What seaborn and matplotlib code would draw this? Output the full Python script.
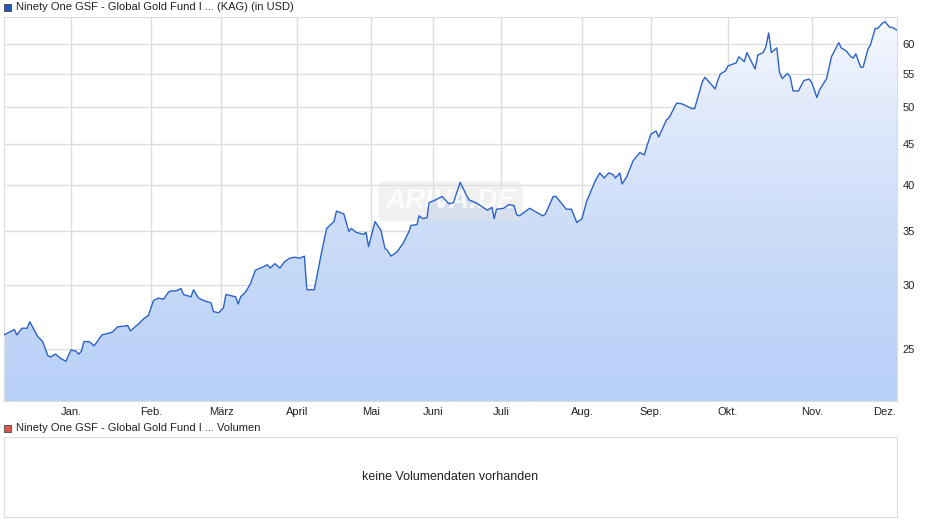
import numpy as np
import pandas as pd
import seaborn as sns
import matplotlib.pyplot as plt
import matplotlib.dates as mdates
from matplotlib.ticker import FixedLocator, NullLocator

# day offsets from 2025-01-01 and fund prices (USD)
days = [-26, -24, -22, -21, -19, -17, -16, -13, -11, -9, -8, -6, -4, -2, 0, 2, 3, 4, 5, 7,
        9, 12, 16, 18, 22, 23, 26, 28, 30, 32, 34, 36, 38, 39, 41, 43, 44, 47, 48, 50,
        52, 55, 56, 58, 60, 61, 65, 66, 67, 69, 71, 73, 76, 78, 79, 81, 83, 85, 87, 89,
        91, 93, 94, 97, 99, 100, 102, 105, 106, 109, 111, 112, 114, 117, 118, 119, 122, 125, 127, 128,
        130, 133, 136, 139, 140, 143, 144, 146, 148, 149, 152, 155, 158, 160, 163, 166, 167, 170, 175, 177,
        178, 179, 182, 184, 186, 187, 188, 192, 197, 198, 201, 202, 206, 208, 210, 212, 214, 218, 220, 222,
        224, 226, 227, 229, 230, 232, 235, 238, 240, 241, 243, 245, 246, 248, 249, 250, 253, 255, 259, 260,
        261, 263, 264, 268, 269, 270, 272, 273, 276, 277, 279, 280, 283, 284, 286, 287, 288, 289, 291, 292,
        293, 295, 296, 297, 299, 301, 303, 304, 306, 307, 310, 312, 313, 315, 316, 318, 320, 321, 322, 324,
        325, 327, 328, 330, 331, 333, 334, 336, 337, 339]
prices = [26.0, 26.2, 26.4, 26.0, 26.5, 26.5, 27.0, 25.9, 25.5, 24.5, 24.4, 24.6, 24.3, 24.1, 24.9, 24.8, 24.6, 24.8, 25.5, 25.5,
          25.2, 26.0, 26.2, 26.6, 26.7, 26.3, 26.8, 27.2, 27.5, 28.7, 28.9, 28.8, 29.4, 29.5, 29.5, 29.7, 29.2, 29.0, 29.6, 28.9,
          28.7, 28.5, 27.8, 27.7, 28.1, 29.2, 29.0, 28.4, 29.0, 29.4, 30.1, 31.3, 31.6, 31.8, 31.5, 31.9, 31.5, 32.1, 32.4, 32.5,
          32.4, 32.6, 29.6, 29.6, 31.8, 33.0, 35.3, 36.0, 37.1, 36.8, 35.0, 35.3, 34.9, 34.7, 34.9, 33.5, 36.0, 35.1, 33.3, 33.2,
          32.6, 33.0, 33.8, 35.0, 35.6, 35.7, 36.6, 36.3, 36.4, 38.0, 38.3, 38.7, 37.9, 38.0, 40.3, 38.7, 38.3, 38.0, 37.2, 37.5,
          36.3, 37.3, 37.4, 37.8, 37.7, 36.7, 36.6, 37.4, 36.6, 36.8, 38.7, 38.7, 37.3, 37.3, 35.9, 36.3, 38.1, 40.5, 41.4, 40.8,
          41.4, 41.2, 40.8, 41.4, 40.1, 40.9, 42.9, 43.9, 43.6, 44.6, 46.3, 46.7, 45.9, 47.4, 48.2, 48.5, 50.6, 50.5, 49.8, 49.8,
          51.1, 53.8, 54.5, 52.7, 54.0, 55.0, 55.5, 56.3, 56.8, 57.8, 57.0, 58.5, 55.8, 58.1, 58.5, 59.5, 61.9, 58.5, 59.3, 55.3,
          54.3, 55.1, 54.5, 52.4, 52.4, 54.0, 54.2, 53.6, 51.4, 52.5, 54.3, 57.8, 58.6, 60.2, 59.3, 58.8, 57.8, 57.6, 58.3, 56.1,
          56.1, 59.1, 59.8, 62.7, 62.7, 63.7, 63.9, 62.9, 62.9, 62.4]

month_labels = ["Jan.", "Feb.", "März", "April", "Mai", "Juni", "Juli", "Aug.", "Sep.", "Okt.", "Nov.", "Dez."]
y_ticks = [25, 30, 35, 40, 45, 50, 55, 60]

df = pd.DataFrame({"date": pd.Timestamp("2025-01-01") + pd.to_timedelta(days, unit="D"), "price": prices})

sns.set_style("white")
plt.rcParams['font.family'] = ['Liberation Sans', 'DejaVu Sans']

fig = plt.figure(figsize=(9.4, 5.26), dpi=100)
ax = fig.add_axes([4 / 940, 1 - 401 / 526, 893 / 940, 384 / 526])
ax2 = fig.add_axes([4 / 940, 1 - 517 / 526, 893 / 940, 80 / 526])

# the source axis is spaced by trading days, so months are not equally wide
month_pos = [pd.Timestamp(2025, m, 1) for m in range(1, 13)]
x0, x1 = mdates.date2num(df["date"].iloc[0]), mdates.date2num(df["date"].iloc[-1])
anchor_d = np.array([x0] + [mdates.date2num(m) for m in month_pos] + [x1])
anchor_p = np.array([4, 71, 151, 221, 297, 371, 433, 501, 582, 651, 728, 812, 885, 897], dtype=float)


def fwd(v):
    return np.interp(v, anchor_d, anchor_p)


def inv(v):
    return np.interp(v, anchor_p, anchor_d)


ymin, ymax = 21.5, 64.8
ax.set_xscale("function", functions=(fwd, inv))
ax.set_yscale("log")

sns.lineplot(data=df, x="date", y="price", ax=ax, color="#2c63c8", linewidth=1, zorder=3)
ax.set_xscale("function", functions=(fwd, inv))
ax.set_yscale("log")
ax.set_ylim(ymin, ymax)
ax.set_xlim(x0, x1)

# gradient fill under the line
poly = ax.fill_between(df["date"], df["price"], ymin, color="none")
grad = np.linspace(0, 1, 256).reshape(-1, 1)
cmap = sns.blend_palette(["#b9d0f7", "#f7f9fe"], as_cmap=True)
im = ax.imshow(grad, cmap=cmap, aspect="auto", origin="lower",
               extent=[x0, x1, ymin, ymax], zorder=1)
im.set_clip_path(poly.get_paths()[0], transform=ax.transData)
ax.set_ylim(ymin, ymax)
ax.set_xlim(x0, x1)

ax.set_xticks([mdates.date2num(m) for m in month_pos])
ax.set_xticklabels(month_labels)
ax.xaxis.set_minor_locator(NullLocator())
ax.yaxis.set_major_locator(FixedLocator(y_ticks))
ax.yaxis.set_minor_locator(NullLocator())
ax.set_yticklabels([str(t) for t in y_ticks])
ax.yaxis.tick_right()
ax.tick_params(axis="both", length=0, labelsize=8, colors="#222222", pad=4)
ax.grid(True, color="#dddddd", linewidth=1, zorder=0)
ax.set_axisbelow(True)
ax.set_xlabel("")
ax.set_ylabel("")
for s in ax.spines.values():
    s.set_color("#dddddd")

ax.text(0.5, 0.52, "ARIVA.DE", transform=ax.transAxes, fontsize=20, style="italic",
        fontweight="bold", color="white", alpha=0.8, ha="center", va="center", zorder=2,
        bbox=dict(boxstyle="round,pad=0.25", facecolor="#e2e2e2", edgecolor="none", alpha=0.45))

ax2.set_xticks([])
ax2.set_yticks([])
for s in ax2.spines.values():
    s.set_color("#dddddd")
ax2.text(0.5, 0.5, "keine Volumendaten vorhanden", transform=ax2.transAxes,
         ha="center", va="center", fontsize=9, color="#222222")

fig.patches.append(plt.Rectangle((4 / 940, 1 - 11 / 526), 7 / 940, 7 / 526, transform=fig.transFigure,
                                 facecolor="#1f56b8", edgecolor="#333333", linewidth=0.5))
fig.text(16 / 940, 1 - 7 / 526, "Ninety One GSF - Global Gold Fund I ... (KAG) (in USD)",
         fontsize=8, va="center", color="#222222")
fig.patches.append(plt.Rectangle((4 / 940, 1 - 432 / 526), 7 / 940, 7 / 526, transform=fig.transFigure,
                                 facecolor="#d9534f", edgecolor="#333333", linewidth=0.5))
fig.text(16 / 940, 1 - 428 / 526, "Ninety One GSF - Global Gold Fund I ... Volumen",
         fontsize=8, va="center", color="#222222")

fig.savefig("out.png", dpi=100, facecolor="white")
